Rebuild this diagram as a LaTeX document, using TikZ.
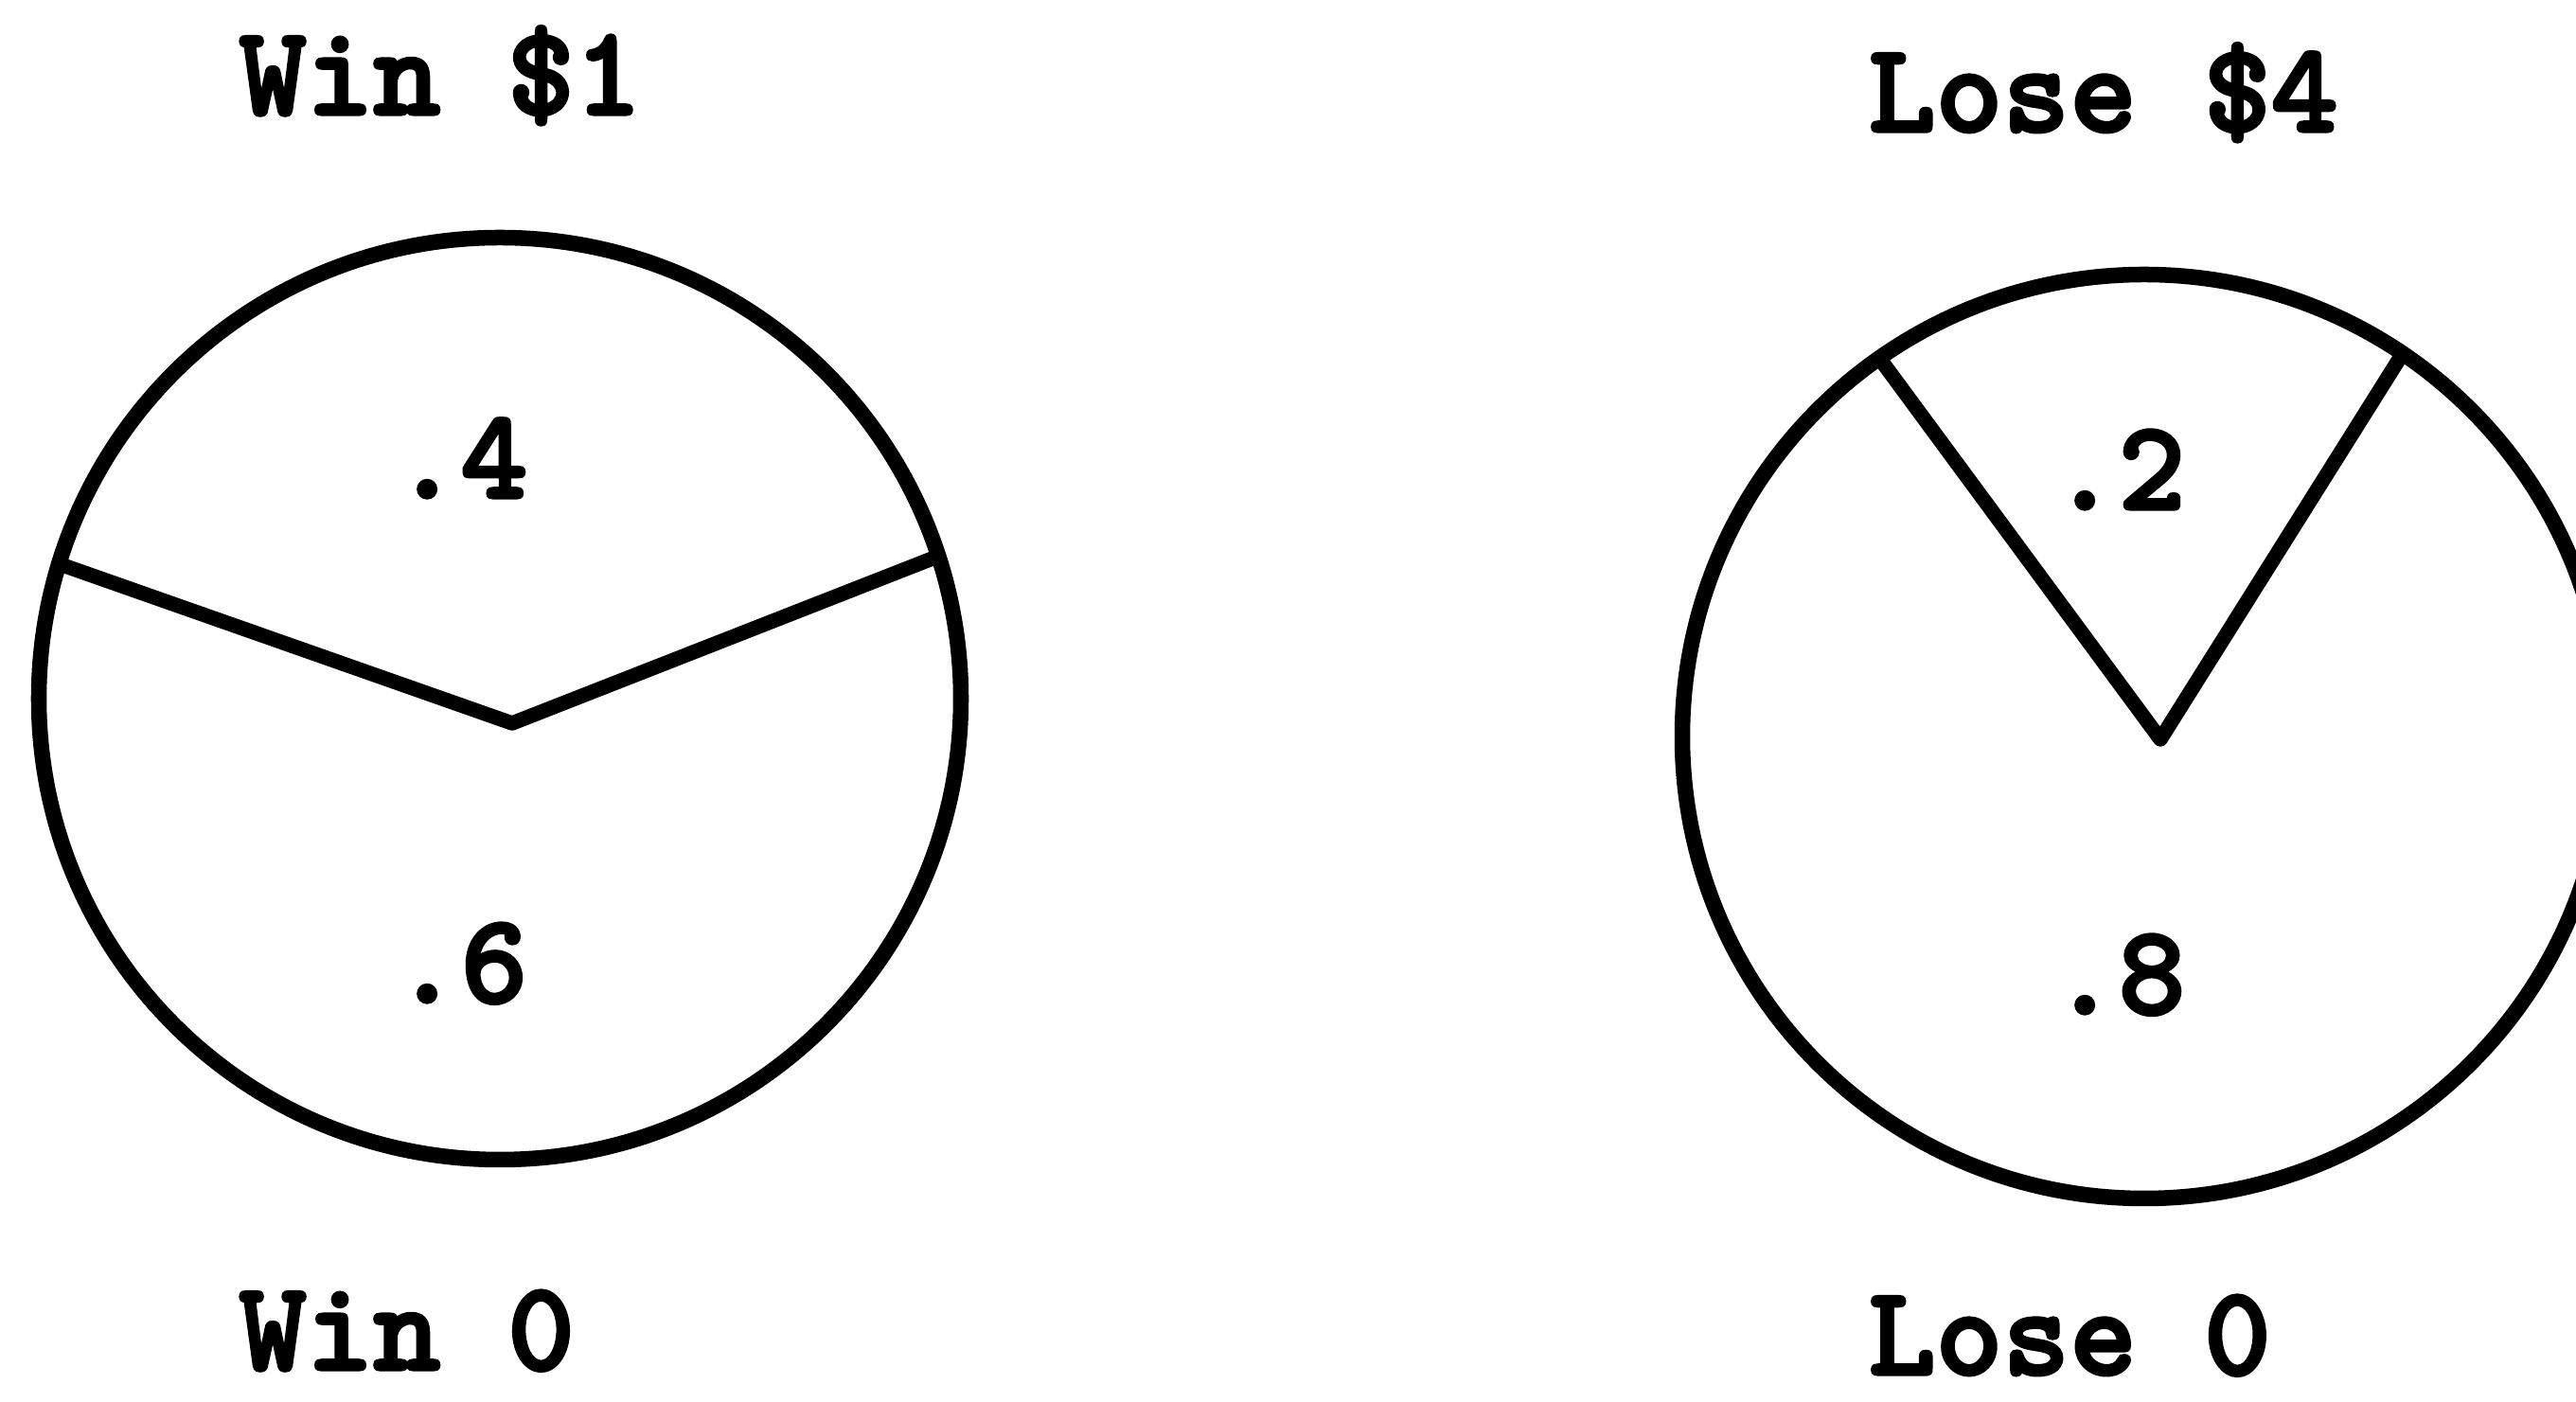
\documentclass[tikz,border=0pt]{standalone}
\usepackage{fontspec}
\newfontfamily\typerfont{lmmonolt10-bold.otf}[FakeBold=2.5]
\usetikzlibrary{positioning,calc}
\tikzset{
  spinner/.style={circle,draw,line width=4.7pt,inner sep=0pt,outer sep=0pt},
  cut/.style={line width=4.4pt,line join=round,line cap=round},
  lbl/.style={inner sep=0pt,anchor=base west,
              font=\typerfont\fontsize{38.4}{42}\selectfont}}
\begin{document}
\begin{tikzpicture}
  \useasboundingbox (0,0) rectangle (27.21,14.81);
  % left spinner
  \node[spinner,minimum size=9.74cm] (winwheel) at (5.28,7.43) {};
  \coordinate (winhub) at (5.41,7.17);
  \draw[cut] (winwheel.163) -- (winhub) -- (winwheel.18);
  \node[lbl] (wintop) at (2.52,13.60) {Win \$1};
  \node[lbl] (winbot) at (2.52,0.34) {Win 0};
  \node[lbl] (pfour) at (4.15,9.55) {.4};
  \node[lbl] (psix) at (4.15,4.22) {.6};
  % right spinner
  \node[spinner,minimum size=9.76cm] (losewheel) at (22.65,7.03) {};
  \coordinate (losehub) at (22.82,7.00);
  \draw[cut] (losewheel.125) -- (losehub) -- (losewheel.56);
  \node[lbl] (losetop) at (19.73,13.42) {Lose \$4};
  \node[lbl] (losebot) at (19.73,0.29) {Lose 0};
  \node[lbl] (ptwo) at (21.66,9.43) {.2};
  \node[lbl] (peight) at (21.66,4.10) {.8};
\end{tikzpicture}
\end{document}
